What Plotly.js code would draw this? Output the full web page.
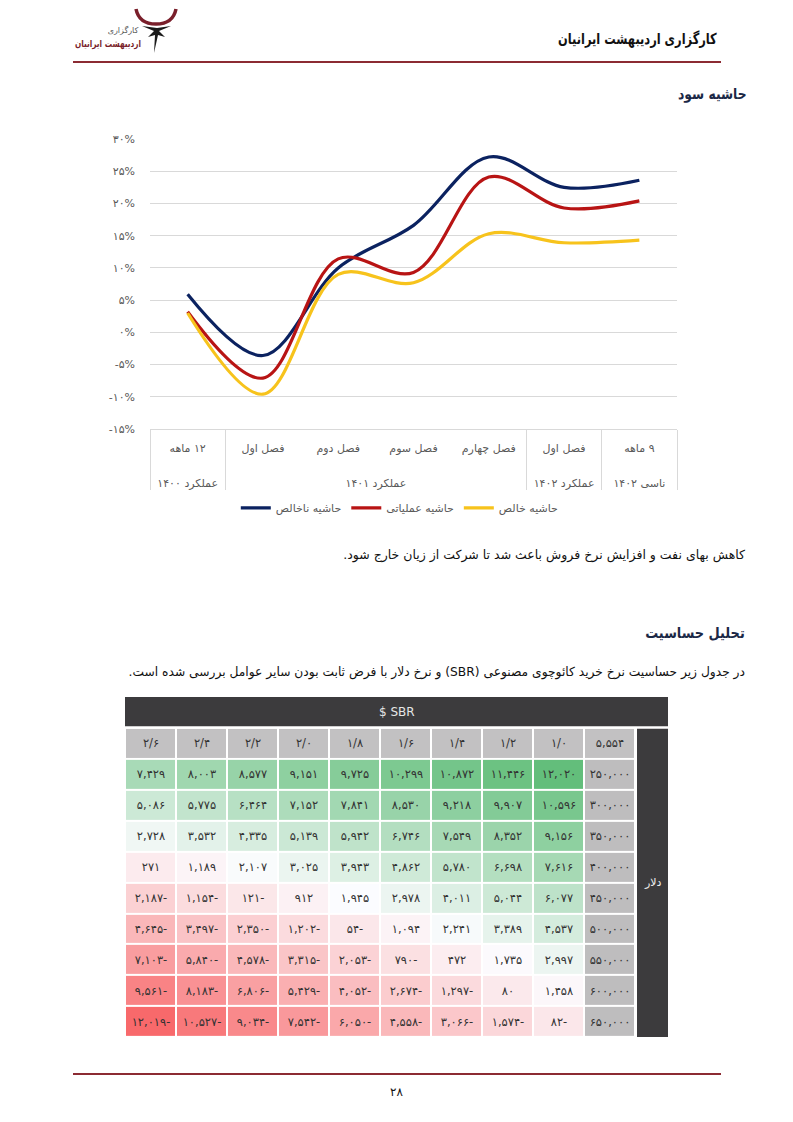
<!DOCTYPE html>
<html lang="fa">
<head>
<meta charset="utf-8">
<script src="https://cdn.plot.ly/plotly-3.0.1.min.js"></script>
<style>
html,body{margin:0;padding:0;background:#fff;}
body{width:793px;height:1122px;position:relative;overflow:hidden;font-family:'DejaVu Sans',sans-serif;}
.abs{position:absolute;}
.rtl{direction:rtl;text-align:right;white-space:nowrap;transform-origin:right center;}
</style>
</head>
<body>
<svg class="abs" style="left:60px;top:5px" width="130" height="55" viewBox="0 0 130 55">
  <path d="M 76 4 Q 79 19 96 19 Q 113 19 116 4" fill="none" stroke="#7a1f2b" stroke-width="3.5"/>
  <path d="M 82 21 L 94 26 L 88 32 L 95 30 L 94 48 L 98 30 L 105 32 L 99 26 L 111 21 L 97 23 Z" fill="#1a1a1a"/>
  <text x="63" y="28" font-size="8" fill="#555" text-anchor="middle" font-family="DejaVu Sans">کارگزاری</text>
  <text x="48" y="42" font-size="9.5" font-weight="bold" fill="#7a1f2b" text-anchor="middle" font-family="DejaVu Sans" textLength="66" lengthAdjust="spacingAndGlyphs">اردیبهشت ایرانیان</text>
</svg>
<div class="abs rtl" style="right:76px;top:30px;font-size:15px;font-weight:bold;color:#111;transform:scaleX(0.76);">کارگزاری اردیبهشت ایرانیان</div>
<div class="abs" style="left:73px;top:61px;width:648px;height:2px;background:#8c2b33;"></div>
<div class="abs rtl" style="right:47px;top:85px;font-size:15px;font-weight:bold;color:#1b2846;transform:scaleX(0.82);">حاشیه سود</div>
<div id="chart" class="abs" style="left:0;top:110px;width:700px;height:420px;"></div>
<div class="abs rtl" style="right:48px;top:547px;font-size:12.5px;color:#111;">کاهش بهای نفت و افزایش نرخ فروش باعث شد تا شرکت از زیان خارج شود.</div>
<div class="abs rtl" style="right:48px;top:624px;font-size:15px;font-weight:bold;color:#1b2846;transform:scaleX(0.86);">تحلیل حساسیت</div>
<div class="abs rtl" style="right:48px;top:664px;font-size:12.5px;color:#111;transform:scaleX(0.98);">در جدول زیر حساسیت نرخ خرید کائوچوی مصنوعی (SBR) و نرخ دلار با فرض ثابت بودن سایر عوامل بررسی شده است.</div>
<div id="table" class="abs" style="left:125px;top:697px;width:543px;height:340px;"></div>
<div class="abs" style="left:73px;top:1073px;width:648px;height:2px;background:#8c2b33;"></div>
<div class="abs" style="left:0;width:793px;top:1085px;text-align:center;font-size:12px;color:#111;">۲۸</div>

<script>
// ---------- Chart data ----------
const periodGroups = ['عملکرد ۱۴۰۰','عملکرد ۱۴۰۱','عملکرد ۱۴۰۱','عملکرد ۱۴۰۱','عملکرد ۱۴۰۱','عملکرد ۱۴۰۲','ناسی ۱۴۰۲'];
const periodNames  = ['۱۲ ماهه','فصل اول','فصل دوم','فصل سوم','فصل چهارم','فصل اول','۹ ماهه'];
const grossMargin     = [5.9, -3.6, 10.0, 16.6, 27.2, 22.5, 23.6];
const operatingMargin = [3.2, -7.1, 11.4, 9.3, 24.1, 19.3, 20.4];
const netMargin       = [3.0, -9.6, 9.0, 7.7, 15.3, 13.9, 14.3];
const seriesNames = ['حاشیه ناخالص','حاشیه عملیاتی','حاشیه خالص'];
const yTickVals = [-15,-10,-5,0,5,10,15,20,25,30];

// ---------- Table data ----------
const sbrPrices = [2.6, 2.4, 2.2, 2.0, 1.8, 1.6, 1.4, 1.2, 1.0];
const dollarRates = [250000, 300000, 350000, 400000, 450000, 500000, 550000, 600000, 650000];
const baseValue = 5554;
const row250 = [7429, 8003, 8577, 9151, 9725, 10299, 10872, 11446, 12020];
const row300 = [5086, 5775, 6464, 7152, 7841, 8530, 9218, 9907, 10596];
const row350 = [2728, 3532, 4335, 5139, 5942, 6746, 7549, 8352, 9156];
const row400 = [271, 1189, 2107, 3025, 3943, 4862, 5780, 6698, 7616];
const row450 = [-2187, -1154, -121, 912, 1945, 2978, 4011, 5044, 6077];
const row500 = [-4645, -3497, -2350, -1202, -54, 1094, 2241, 3389, 4537];
const row550 = [-7103, -5840, -4578, -3315, -2053, -790, 472, 1735, 2997];
const row600 = [-9561, -8183, -6806, -5429, -4052, -2674, -1297, 80, 1458];
const row650 = [-12019, -10527, -9034, -7542, -6050, -4558, -3066, -1574, -82];

const FA = '۰۱۲۳۴۵۶۷۸۹';
const fa = s => String(s).replace(/[0-9]/g, d => FA[+d]);
const rtl = s => '\u200F' + s;
const padAbove = s => '\u00A0<br>' + rtl(s);
const fmtNum = v => v < 0 ? fa(Math.abs(v).toLocaleString('en-US')) + '-' : fa(v.toLocaleString('en-US'));

const FONT = 'DejaVu Sans, sans-serif';
const colors = ['#0b2260', '#b81414', '#f7c31c'];
const xCats = [periodGroups.map(padAbove), periodNames.map(padAbove)];

const traces = [grossMargin, operatingMargin, netMargin].map((vals, i) => ({
  type: 'scatter', mode: 'lines', x: xCats, y: vals, name: seriesNames[i],
  line: {color: colors[i], width: 3.2, shape: 'spline', smoothing: 1}
}));

Plotly.newPlot('chart', traces, {
  width: 700, height: 420,
  margin: {l: 150, r: 23, t: 29, b: 101, autoexpand: false},
  paper_bgcolor: '#fff', plot_bgcolor: '#fff',
  font: {family: FONT, size: 11, color: '#595959'},
  showlegend: true,
  legend: {orientation: 'h', x: 0.474, xanchor: 'center', y: -0.272, yanchor: 'middle',
           font: {size: 11, color: '#595959'}, itemwidth: 30},
  xaxis: {type: 'multicategory', range: [-0.5, 6.5], showgrid: false, showline: true, linecolor: '#d9d9d9', linewidth: 1,
          ticks: '', tickfont: {size: 11, color: '#595959'}, showdividers: true, ticklabelstandoff: -6,
          dividercolor: '#d9d9d9', dividerwidth: 1, fixedrange: true, automargin: false},
  yaxis: {range: [-15, 30], tickvals: yTickVals, ticktext: yTickVals.map(v => (v < 0 ? '-' : '') + fa(Math.abs(v)) + '%'),
          showgrid: true, gridcolor: '#d9d9d9', gridwidth: 1, zeroline: false, showline: false, ticks: '',
          ticklabelstandoff: 14, tickfont: {size: 11, color: '#595959'}, fixedrange: true, automargin: false}
}, {staticPlot: true, displayModeBar: false});

// ---------- Heatmap table ----------
const grid = [row250, row300, row350, row400, row450, row500, row550, row600, row650];
const all = grid.flat();
const zmin = Math.min(...all), zmax = Math.max(...all);
const zmean = all.reduce((a, b) => a + b, 0) / all.length;
const midPos = (zmean - zmin) / (zmax - zmin);
const colIdx = sbrPrices.map((_, i) => i);
const rowIdx = dollarRates.map((_, i) => i + 1);
const cellFont = {family: FONT, size: 11.5, color: '#333'};

const dataTrace = {
  type: 'heatmap', x: colIdx, y: rowIdx, z: grid,
  text: grid.map(r => r.map(fmtNum)), texttemplate: '%{text}', textfont: cellFont,
  colorscale: [[0, '#f8696b'], [midPos, '#fcfcff'], [1, '#63be7b']],
  zmin: zmin, zmax: zmax, showscale: false, xgap: 2, ygap: 2, hoverinfo: 'skip'
};
const headCols = colIdx.concat([9]);
const headRowTrace = {
  type: 'heatmap', x: headCols, y: [0], z: [headCols.map(() => 1)],
  text: [sbrPrices.map(v => fa(v.toFixed(1)).replace('.', '/')).concat([fa(baseValue.toLocaleString('en-US'))])],
  texttemplate: '%{text}', textfont: cellFont,
  colorscale: [[0, '#c2c1c2'], [1, '#c2c1c2']], showscale: false, xgap: 2, ygap: 2, hoverinfo: 'skip'
};
const headColTrace = {
  type: 'heatmap', x: [9], y: rowIdx, z: rowIdx.map(() => [1]),
  text: dollarRates.map(v => [fa(v.toLocaleString('en-US'))]),
  texttemplate: '%{text}', textfont: cellFont,
  colorscale: [[0, '#bebdbe'], [1, '#bebdbe']], showscale: false, xgap: 2, ygap: 2, hoverinfo: 'skip'
};
const xEnd = 9.5 + 33 / 51;
Plotly.newPlot('table', [dataTrace, headRowTrace, headColTrace], {
  width: 543, height: 340, margin: {l: 0, r: 0, t: 0, b: 0},
  paper_bgcolor: '#fff', plot_bgcolor: '#fff', showlegend: false,
  xaxis: {range: [-0.5, xEnd], visible: false, fixedrange: true},
  yaxis: {range: [9.5, -1.5], visible: false, fixedrange: true},
  shapes: [
    {type: 'rect', xref: 'x', yref: 'y', x0: -0.5, x1: xEnd, y0: -1.5, y1: -0.55, fillcolor: '#3c3b3d', line: {width: 0}},
    {type: 'rect', xref: 'x', yref: 'y', x0: 9.5 + 2 / 51, x1: xEnd, y0: -0.47, y1: 9.5, fillcolor: '#3c3b3d', line: {width: 0}}
  ],
  annotations: [
    {x: (-0.5 + xEnd) / 2, y: -1.02, xref: 'x', yref: 'y', text: '$ SBR', showarrow: false,
     font: {family: FONT, size: 12, color: '#e6e6e6'}},
    {x: (9.5 + 2 / 51 + xEnd) / 2, y: 4.5, xref: 'x', yref: 'y', text: 'دلار', showarrow: false,
     font: {family: FONT, size: 11, color: '#eeeeee'}}
  ]
}, {staticPlot: true, displayModeBar: false});
</script>
</body>
</html>
